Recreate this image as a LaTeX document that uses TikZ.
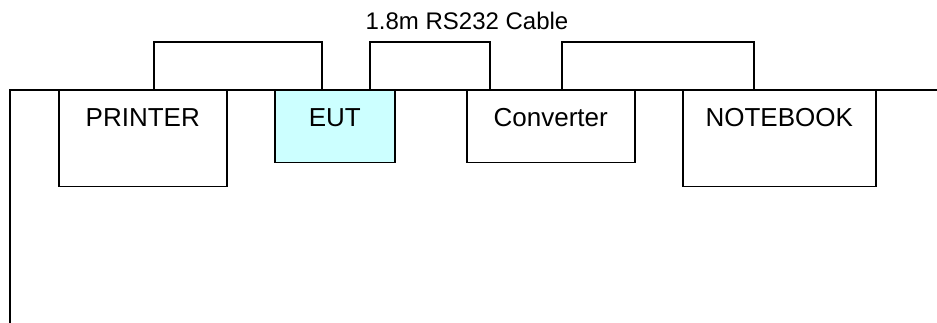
\documentclass[tikz,border=0pt]{standalone}
\usepackage{fontspec}
\setmainfont{Liberation Sans}
\usetikzlibrary{positioning}
\definecolor{euttint}{HTML}{CCFFFF}
\tikzset{
  every picture/.style={line width=1.5pt, x=1pt, y=1pt},
  box/.style={draw=black, fill=#1, anchor=north west, inner sep=0pt},
  box/.default=white,
  lbl/.style={anchor=base, font=\fontsize{26}{30}\selectfont},
  cable/.style={draw=black, line width=1.5pt},
  title/.style={anchor=base, font=\fontsize{24}{28}\selectfont},
}

\begin{document}
\begin{tikzpicture}
  \useasboundingbox (0,0) rectangle (937,-323);
  % table edge
  \coordinate (tl) at (10,-90);
  \coordinate (tr) at (937,-90);
  \coordinate (bl) at (10,-323);
  \draw (bl) -- (tl) -- (tr);
  % units on the table
  \node[box, minimum width=168pt, minimum height=96pt] (prn) at (58,-90) {};
  \node[box=euttint, minimum width=120pt, minimum height=72pt] (eut) at (274,-90) {};
  \node[box, minimum width=168pt, minimum height=72pt] (conv) at (466,-90) {};
  \node[box, minimum width=193pt, minimum height=96pt] (nb) at (682,-90) {};
  \node[lbl] (prnT) at ([yshift=-37pt]prn.north) {PRINTER};
  \node[lbl] (eutT) at ([yshift=-37pt]eut.north) {EUT};
  \node[lbl] (convT) at ([yshift=-37pt]conv.north) {Converter};
  \node[lbl] (nbT) at ([yshift=-37pt]nb.north) {NOTEBOOK};
  % cables
  \draw[cable] ([xshift=96pt]prn.north west) -- ++(0,48) -| ([xshift=48pt]eut.north west);
  \draw[cable] ([xshift=96pt]eut.north west) -- ++(0,48) -| ([xshift=24pt]conv.north west);
  \draw[cable] ([xshift=96pt]conv.north west) -- ++(0,48) -| ([xshift=72pt]nb.north west);
  \node[title] (cbl) at (467,-30) {1.8m RS232 Cable};
\end{tikzpicture}
\end{document}
